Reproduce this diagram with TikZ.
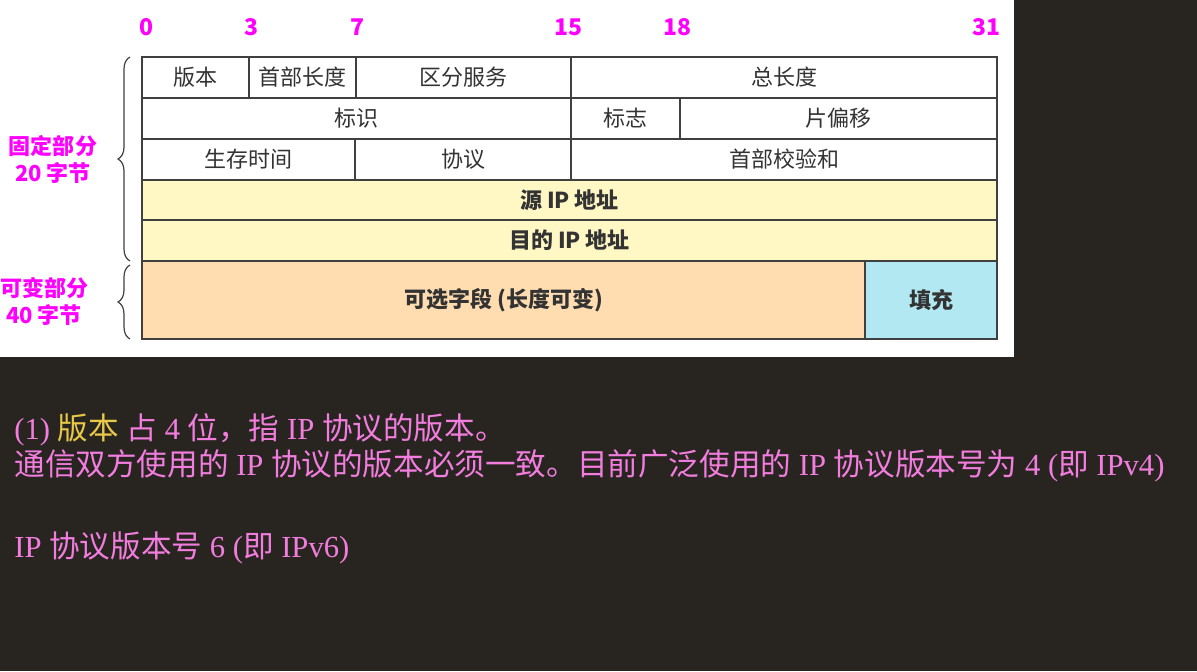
\documentclass[tikz,border=0pt]{standalone}
\usepackage{fontspec}
\usepackage{tikz}
\usetikzlibrary{decorations.pathreplacing}
\setmainfont{Liberation Serif}
\newfontfamily\cjk{Noto Sans CJK SC}
\newcommand{\zh}[1]{{\cjk #1}}

\definecolor{bgdark}{RGB}{40,37,32}
\definecolor{linegray}{RGB}{64,64,64}
\definecolor{txtgray}{RGB}{51,51,51}
\definecolor{bitmag}{RGB}{255,0,255}
\definecolor{addryel}{RGB}{255,248,196}
\definecolor{optorange}{RGB}{255,221,176}
\definecolor{padcyan}{RGB}{178,232,242}
\definecolor{notepink}{RGB}{242,125,222}
\definecolor{noteyel}{RGB}{232,200,72}

\begin{document}
\begin{tikzpicture}[
    x=0.5pt, y=-0.5pt,
    cell/.style={draw=linegray, line width=1pt, rectangle, inner sep=0pt, text=txtgray, font=\cjk\fontsize{11}{13}\selectfont},
    boldcell/.style={cell, font=\cjk\bfseries\fontsize{11}{13}\selectfont},
    bitnum/.style={text=bitmag, font=\cjk\bfseries\fontsize{11.5}{13}\selectfont},
    partlabel/.style={text=bitmag, align=center, font=\cjk\bfseries\fontsize{11}{13.5}\selectfont},
    brace/.style={decorate, decoration={brace, amplitude=6pt}, draw=linegray, line width=0.6pt},
    note/.style={anchor=west, inner sep=0pt, text=notepink, font=\fontsize{15.3}{18}\selectfont}
    ]

    % screenshot background
    \useasboundingbox (0,0) rectangle (1197,671);
    \fill[bgdark] (0,0) rectangle (1197,671);
    \fill[white] (0,0) rectangle (1014,357);

    % bit positions
    \foreach \bx/\bn in {146/0, 251/3, 357/7, 568/15, 677/18, 986/31}
        \node[bitnum] (bit\bn) at (\bx,27) {\bn};

    % row 1
    \node[cell, minimum width=53.5pt, minimum height=20.5pt] (ver) at (195.5,77.5) {版本};
    \node[cell, minimum width=53.5pt, minimum height=20.5pt] (hlen) at (302.5,77.5) {首部长度};
    \node[cell, minimum width=107.5pt, minimum height=20.5pt] (tos) at (463.5,77.5) {区分服务};
    \node[cell, minimum width=213pt, minimum height=20.5pt] (totlen) at (784,77.5) {总长度};

    % row 2
    \node[cell, minimum width=214.5pt, minimum height=20.5pt] (ident) at (356.5,118.5) {标识};
    \node[cell, minimum width=54.5pt, minimum height=20.5pt] (flag) at (625.5,118.5) {标志};
    \node[cell, minimum width=158.5pt, minimum height=20.5pt] (fragoff) at (838.5,118.5) {片偏移};

    % row 3
    \node[cell, minimum width=106.5pt, minimum height=20.5pt] (ttl) at (248.5,159.5) {生存时间};
    \node[cell, minimum width=108pt, minimum height=20.5pt] (proto) at (463,159.5) {协议};
    \node[cell, minimum width=213pt, minimum height=20.5pt] (cksum) at (784,159.5) {首部校验和};

    % addresses
    \node[boldcell, fill=addryel, minimum width=427.5pt, minimum height=20pt] (srcip) at (569.5,200) {源 IP 地址};
    \node[boldcell, fill=addryel, minimum width=427.5pt, minimum height=20.5pt] (dstip) at (569.5,240.5) {目的 IP 地址};

    % options and padding
    \node[boldcell, fill=optorange, minimum width=361.5pt, minimum height=39pt] (opts) at (503.5,300) {可选字段 (长度可变)};
    \node[boldcell, fill=padcyan, minimum width=66pt, minimum height=39pt] (pad) at (931,300) {填充};

    % braces
    \coordinate (fixtop) at (130,57);
    \coordinate (fixbot) at (130,261);
    \coordinate (vartop) at (130,265);
    \coordinate (varbot) at (130,339);
    \draw[brace] (fixbot) -- (fixtop);
    \draw[brace] (varbot) -- (vartop);
    \node[partlabel] (fixed) at (53,159) {固定部分\\20 字节};
    \node[partlabel] (var) at (44,301) {可变部分\\40 字节};

    % notes
    \node[note] (line1) at (14,430) {(1) \textcolor{noteyel}{\zh{版本}} \zh{占} 4 \zh{位，指} IP \zh{协议的版本。}};
    \node[note] (line2) at (14,466) {\zh{通信双方使用的} IP \zh{协议的版本必须一致。目前广泛使用的} IP \zh{协议版本号为} 4 (\zh{即} IPv4)};
    \node[note] (line3) at (14,548) {IP \zh{协议版本号} 6 (\zh{即} IPv6)};

\end{tikzpicture}
\end{document}
